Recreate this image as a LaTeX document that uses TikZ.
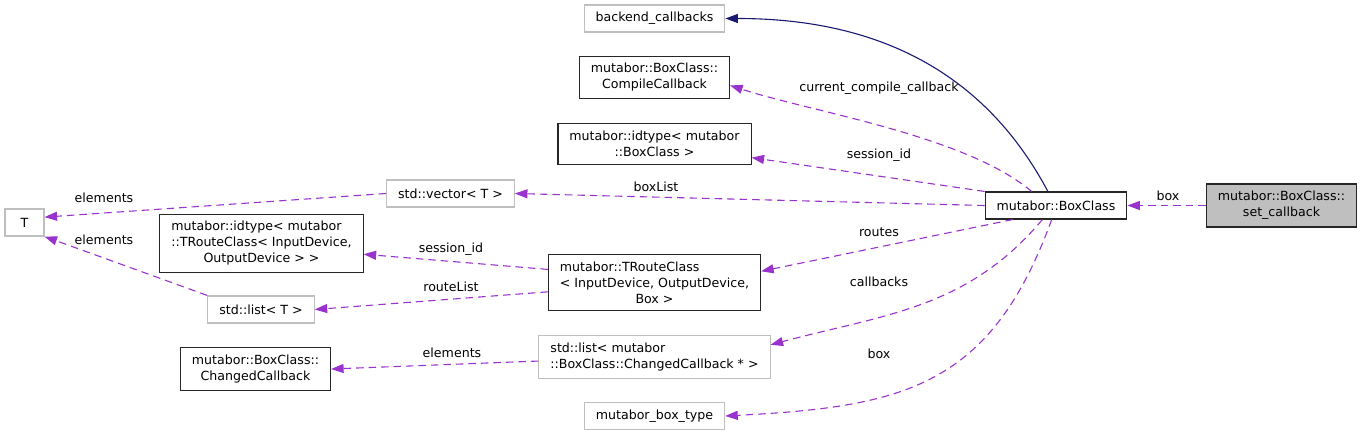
\documentclass[tikz,border=0pt]{standalone}
\usepackage{fontspec}
\setmainfont{DejaVu Sans}
\usepackage{xcolor}
\usetikzlibrary{arrows.meta}

\definecolor{orchid}{HTML}{9A32CD}
\definecolor{midnight}{HTML}{191970}
\definecolor{grayline}{HTML}{BFBFBF}

\begin{document}
\begin{tikzpicture}[
  x=1pt,
  y=1pt,
  every node/.style={font=\fontsize{12.6}{16}\selectfont},
  box/.style={rectangle, minimum width=39pt, minimum height=27pt,
    inner xsep=11.5pt, inner ysep=7.2pt, align=center, line width=1.1pt},
  cls/.style={box, draw=black!85},
  ext/.style={box, draw=grayline},
  self/.style={box, draw=black!85, fill=grayline},
  uses/.style={-{Triangle[length=12.5pt,width=9pt]}, draw=orchid,
    line width=1.1pt, dash pattern=on 7.5pt off 5pt},
  inherit/.style={-{Triangle[length=12.5pt,width=9pt]}, draw=midnight,
    line width=1.1pt},
  lbl/.style={inner sep=0pt}
]
  \useasboundingbox (0,0) rectangle (1363,-435);

  % classes
  \node[ext] (backend) at (654.5,-18.5) {backend\_callbacks};
  \node[cls] (compile) at (654.5,-77.5) {mutabor::BoxClass::\\CompileCallback};
  \node[cls] (idbox) at (654.5,-144) {mutabor::idtype< mutabor\\::BoxClass >};
  \node[ext] (vector) at (450.5,-193.5) {std::vector< T >};
  \node[ext] (T) at (24.5,-222.5) {T};
  \node[cls, align=left] (idroute) at (261.5,-243.5)
    {mutabor::idtype< mutabor\\::TRouteClass< InputDevice,\\\hspace*{\fill}OutputDevice > >\hspace*{\fill}};
  \node[cls, align=left] (troute) at (654.5,-282.5)
    {mutabor::TRouteClass\\< InputDevice, OutputDevice,\\\hspace*{\fill}Box >\hspace*{\fill}};
  \node[ext] (listT) at (261,-309.5) {std::list< T >};
  \node[cls] (boxclass) at (1056,-205.5) {mutabor::BoxClass};
  \node[self] (setcb) at (1281.5,-205.5) {mutabor::BoxClass::\\set\_callback};
  \node[cls] (changedcb) at (255.5,-369) {mutabor::BoxClass::\\ChangedCallback};
  \node[ext, align=left] (listcb) at (654.5,-357)
    {std::list< mutabor\\::BoxClass::ChangedCallback * >};
  \node[ext] (boxtype) at (654.5,-416) {mutabor\_box\_type};

  % relations
  \draw[uses] (setcb) -- (boxclass);
  \draw[inherit] (boxclass.120) to[out=118, in=0] (backend.east);
  \draw[uses] (boxclass.150) to[out=140, in=-18, looseness=0.7] (compile.-6);
  \draw[uses] (boxclass.north west) -- (idbox.-8);
  \draw[uses] (boxclass.west) -- (vector.east);
  \draw[uses] (boxclass.198) -- (troute.6);
  \draw[uses] (boxclass.226) to[out=230, in=15] (listcb.6);
  \draw[uses] (boxclass.253) to[out=250, in=3, looseness=1.2] (boxtype.east);
  \draw[uses] (vector.west) -- (T.15);
  \draw[uses] (listT.north west) -- (T.south east);
  \draw[uses] (troute.173) -- (idroute.-6);
  \draw[uses] (troute.185) -- (listT.east);
  \draw[uses] (listcb.182) -- (changedcb.east);

  % edge labels
  \node[lbl] (lbox1) at (1168,-196) {box};
  \node[lbl] (lcompile) at (879,-88) {current\_compile\_callback};
  \node[lbl] (lsid1) at (879,-155) {session\_id};
  \node[lbl] (lboxlist) at (656,-187) {boxList};
  \node[lbl] (lroutes) at (879,-232) {routes};
  \node[lbl] (lcallbacks) at (879,-282) {callbacks};
  \node[lbl] (lbox2) at (879,-354) {box};
  \node[lbl] (lelem1) at (104,-198) {elements};
  \node[lbl] (lelem2) at (104,-240) {elements};
  \node[lbl] (lsid2) at (451,-249) {session\_id};
  \node[lbl] (lroutelist) at (451,-287) {routeList};
  \node[lbl] (lelem3) at (452,-353) {elements};
\end{tikzpicture}
\end{document}
